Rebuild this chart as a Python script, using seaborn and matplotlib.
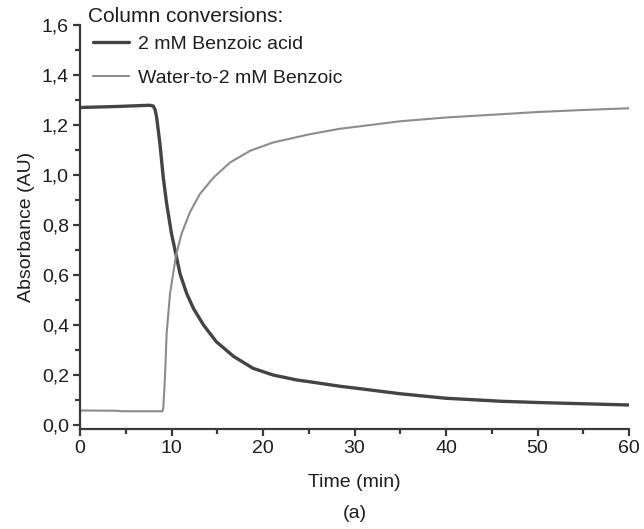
import numpy as np
import pandas as pd
import matplotlib
matplotlib.use("Agg")
import matplotlib.pyplot as plt
from matplotlib.ticker import MultipleLocator, FuncFormatter
import seaborn as sns

# Absorbance traces recorded during the column conversions
benzoic_time = [0, 4, 7.6, 8.0, 8.2, 8.38, 8.74, 9.1, 9.47, 10.0, 10.5, 10.93, 11.66,
                12.4, 13.5, 14.9, 16.8, 18.9, 21.1, 23.7, 25.1, 28.4, 30.0, 35.0,
                40.0, 46.0, 50.0, 55.0, 60.0]
benzoic_abs = [1.27, 1.274, 1.279, 1.276, 1.262, 1.23, 1.124, 0.99, 0.885, 0.765, 0.68,
               0.605, 0.526, 0.466, 0.40, 0.333, 0.274, 0.227, 0.20, 0.18, 0.173,
               0.155, 0.148, 0.125, 0.107, 0.095, 0.09, 0.085, 0.08]

water_time = [0, 4, 4.5, 9.0, 9.1, 9.29, 9.47, 9.84, 10.5, 11.1, 12.0, 13.1, 14.6,
              16.4, 18.6, 21.1, 25.1, 28.4, 30.0, 35.0, 40.0, 46.0, 50.0, 55.0, 60.0]
water_abs = [0.058, 0.057, 0.055, 0.055, 0.065, 0.195, 0.367, 0.526, 0.68, 0.765, 0.85,
             0.924, 0.99, 1.05, 1.097, 1.13, 1.163, 1.185, 1.192, 1.215, 1.23, 1.243,
             1.252, 1.26, 1.267]

series_labels = ["2 mM Benzoic acid", "Water-to-2 mM Benzoic"]
legend_title = "Column conversions:"
x_label = "Time (min)"
y_label = "Absorbance (AU)"
panel_label = "(a)"

sns.set_theme(style="ticks")
plt.rcParams["font.family"] = ["Liberation Sans", "DejaVu Sans"]
text_color = "#1e1e1e"
axis_color = "#3a3a3a"

df_benzoic = pd.DataFrame({"Time": benzoic_time, "Absorbance": benzoic_abs})
df_water = pd.DataFrame({"Time": water_time, "Absorbance": water_abs})

fig = plt.figure(figsize=(6.44, 5.29), dpi=100)
ax = fig.add_axes([80 / 644, 1 - 429 / 529, (629 - 80) / 644, (429 - 25) / 529])

sns.lineplot(data=df_benzoic, x="Time", y="Absorbance", ax=ax, color="#444444",
             linewidth=2.4, label=series_labels[0], estimator=None)
sns.lineplot(data=df_water, x="Time", y="Absorbance", ax=ax, color="#8c8c8c",
             linewidth=1.5, label=series_labels[1], estimator=None)
for line in ax.get_lines():
    line.set_solid_joinstyle("round")
    line.set_solid_capstyle("round")

ax.set_xlim(0, 60)
ax.set_ylim(-0.016, 1.6)
ax.xaxis.set_major_locator(MultipleLocator(10))
ax.xaxis.set_minor_locator(MultipleLocator(5))
ax.yaxis.set_major_locator(MultipleLocator(0.2))
ax.yaxis.set_minor_locator(MultipleLocator(0.1))
ax.yaxis.set_major_formatter(FuncFormatter(lambda v, p: f"{v:.1f}".replace(".", ",")))

sns.despine(ax=ax)
for side in ("left", "bottom"):
    ax.spines[side].set_linewidth(1.6)
    ax.spines[side].set_color(axis_color)
ax.tick_params(which="major", direction="out", length=5, width=1.6, color=axis_color,
               labelsize=14, labelcolor=text_color, pad=3)
ax.tick_params(which="minor", direction="out", length=3.5, width=1.6, color=axis_color)

ax.set_xlabel(x_label, fontsize=14, color=text_color, labelpad=12)
ax.set_ylabel(y_label, fontsize=14, color=text_color, labelpad=5)
fig.text(355 / 644, 1 - 513 / 529, panel_label, fontsize=14, color=text_color,
         ha="center", va="center")

# Legend heading sits slightly left of the indented entries
fig.text(88 / 644, 1 - 17 / 529, legend_title, fontsize=15, color=text_color,
         ha="left", va="center")
leg = ax.legend(loc="upper left", bbox_to_anchor=(91 / 644, 1 - 33 / 529),
                bbox_transform=fig.transFigure, frameon=False, fontsize=14,
                handlelength=1.85, handletextpad=0.45, labelspacing=0.88,
                borderaxespad=0, borderpad=0.1)
for t in leg.get_texts():
    t.set_color(text_color)

fig.savefig("out.png", dpi=100)
